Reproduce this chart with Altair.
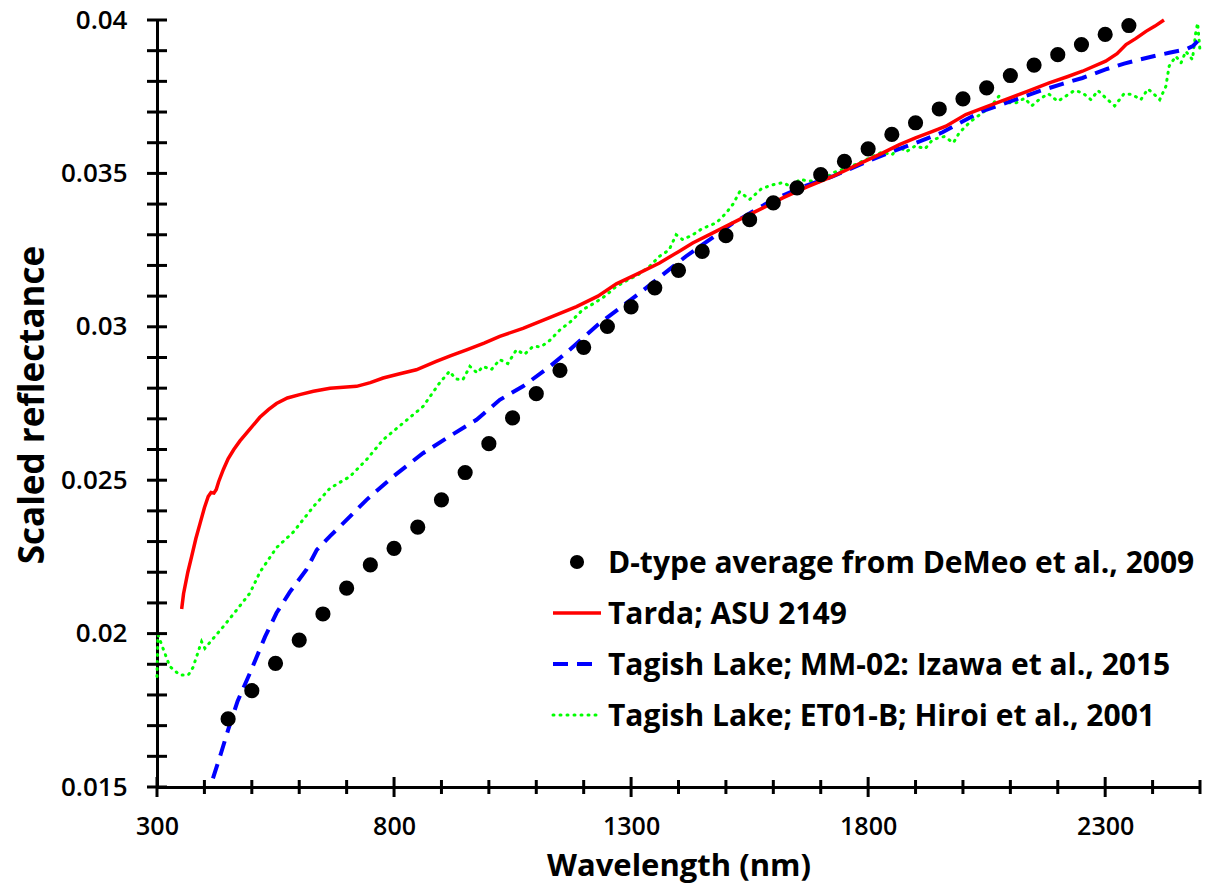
import altair as alt
import pandas as pd

# ---------------- data ----------------
dtype_wl = [450, 500, 550, 600, 650, 700, 750, 800, 850, 900, 950, 1000, 1050, 1100,
            1150, 1200, 1250, 1300, 1350, 1400, 1450, 1500, 1550, 1600, 1650, 1700,
            1750, 1800, 1850, 1900, 1950, 2000, 2050, 2100, 2150, 2200, 2250, 2300, 2350]
dtype_refl = [0.01722, 0.01814, 0.01903, 0.01979, 0.02064, 0.02148, 0.02224, 0.02278,
              0.02347, 0.02436, 0.02525, 0.02619, 0.02703, 0.02782, 0.02858, 0.02933,
              0.03001, 0.03065, 0.03127, 0.03184, 0.03246, 0.03297, 0.03349, 0.03404,
              0.03453, 0.03496, 0.03539, 0.03580, 0.03627, 0.03665, 0.03710, 0.03743,
              0.03779, 0.03819, 0.03853, 0.03887, 0.03920, 0.03953, 0.03982]

tarda_wl = [352, 356, 365, 373, 382, 391, 400, 408, 414, 420, 425, 430, 440, 450, 462,
            475, 495, 517, 535, 552, 575, 601, 630, 665, 700, 721, 750, 777, 810, 847,
            889, 920, 953, 990, 1023, 1072, 1128, 1185, 1230, 1269, 1310, 1360, 1400,
            1430, 1480, 1529, 1575, 1620, 1670, 1725, 1780, 1831, 1866, 1900, 1936,
            1964, 2006, 2050, 2091, 2140, 2182, 2220, 2252, 2301, 2325, 2344, 2365,
            2386, 2405, 2424]
tarda_refl = [0.02080, 0.02130, 0.02200, 0.02251, 0.02310, 0.02360, 0.02410, 0.02447,
              0.02460, 0.02458, 0.02470, 0.02495, 0.02535, 0.02570, 0.02600, 0.02628,
              0.02665, 0.02705, 0.02730, 0.02750, 0.02768, 0.02779, 0.02790, 0.02800,
              0.02804, 0.02806, 0.02818, 0.02833, 0.02846, 0.02860, 0.02887, 0.02906,
              0.02925, 0.02947, 0.02969, 0.02995, 0.03030, 0.03066, 0.03100, 0.03140,
              0.03170, 0.03208, 0.03245, 0.03273, 0.03312, 0.03350, 0.03385, 0.03420,
              0.03455, 0.03490, 0.03530, 0.03567, 0.03594, 0.03616, 0.03637, 0.03654,
              0.03692, 0.03718, 0.03741, 0.03770, 0.03795, 0.03815, 0.03833, 0.03866,
              0.03890, 0.03920, 0.03940, 0.03963, 0.03980, 0.04000]

izawa_wl = [418, 435, 450, 470, 496, 528, 552, 580, 615, 637, 665, 693, 742, 798, 861,
            917, 974, 1023, 1072, 1128, 1163, 1234, 1318, 1416, 1515, 1599, 1660, 1725,
            1800, 1866, 1910, 1957, 2000, 2041, 2100, 2161, 2210, 2252, 2301, 2340,
            2372, 2410, 2435, 2470, 2485, 2495]
izawa_refl = [0.01528, 0.01610, 0.01686, 0.01780, 0.01871, 0.01990, 0.02067, 0.02135,
              0.02208, 0.02273, 0.02318, 0.02360, 0.02436, 0.02512, 0.02588, 0.02643,
              0.02697, 0.02762, 0.02806, 0.02870, 0.02915, 0.03012, 0.03110, 0.03230,
              0.03338, 0.03414, 0.03455, 0.03490, 0.03540, 0.03580, 0.03605, 0.03634,
              0.03670, 0.03703, 0.03735, 0.03768, 0.03792, 0.03811, 0.03839, 0.03858,
              0.03871, 0.03885, 0.03893, 0.03904, 0.03915, 0.03931]

hiroi_wl = [300, 302, 327, 348, 366, 376, 394, 401, 419, 440, 468, 496, 517, 552, 587,
            630, 665, 707, 742, 777, 819, 861, 896, 917, 930, 945, 960, 975, 988, 1005,
            1023, 1040, 1058, 1075, 1093, 1110, 1128, 1150, 1175, 1198, 1220, 1245,
            1269, 1290, 1315, 1339, 1360, 1380, 1395, 1409, 1430, 1450, 1480, 1500,
            1515, 1529, 1550, 1575, 1599, 1620, 1640, 1655, 1680, 1700, 1725, 1760,
            1796, 1830, 1850, 1866, 1880, 1900, 1920, 1936, 1960, 1980, 1992, 2010,
            2025, 2041, 2060, 2076, 2090, 2112, 2130, 2145, 2161, 2180, 2200, 2217,
            2235, 2252, 2270, 2285, 2301, 2320, 2340, 2357, 2375, 2390, 2400, 2415,
            2428, 2435, 2449, 2460, 2470, 2484, 2491, 2495, 2500]
hiroi_refl = [0.01860, 0.01996, 0.01893, 0.01865, 0.01865, 0.01890, 0.01974, 0.01952,
              0.01985, 0.02023, 0.02077, 0.02132, 0.02200, 0.02280, 0.02330, 0.02414,
              0.02474, 0.02512, 0.02567, 0.02632, 0.02686, 0.02740, 0.02817, 0.02855,
              0.02830, 0.02827, 0.02871, 0.02850, 0.02871, 0.02860, 0.02893, 0.02880,
              0.02925, 0.02910, 0.02936, 0.02935, 0.02955, 0.02990, 0.03020, 0.03056,
              0.03075, 0.03100, 0.03132, 0.03150, 0.03170, 0.03197, 0.03230, 0.03250,
              0.03300, 0.03284, 0.03300, 0.03320, 0.03339, 0.03370, 0.03400, 0.03440,
              0.03415, 0.03450, 0.03463, 0.03470, 0.03455, 0.03480, 0.03475, 0.03470,
              0.03502, 0.03520, 0.03545, 0.03570, 0.03560, 0.03588, 0.03570, 0.03590,
              0.03580, 0.03610, 0.03620, 0.03600, 0.03632, 0.03660, 0.03680, 0.03697,
              0.03720, 0.03752, 0.03730, 0.03730, 0.03745, 0.03720, 0.03741, 0.03760,
              0.03735, 0.03752, 0.03770, 0.03763, 0.03740, 0.03770, 0.03746, 0.03720,
              0.03760, 0.03757, 0.03740, 0.03775, 0.03763, 0.03740, 0.03784, 0.03850,
              0.03882, 0.03860, 0.03898, 0.03871, 0.03958, 0.03990, 0.03900]

legend_labels = ["D-type average from DeMeo et al., 2009",
                 "Tarda; ASU 2149",
                 "Tagish Lake; MM-02: Izawa et al., 2015",
                 "Tagish Lake; ET01-B; Hiroi et al., 2001"]

x_major_ticks = [300, 800, 1300, 1800, 2300]
x_minor_ticks = [400, 500, 600, 700, 900, 1000, 1100, 1200, 1400, 1500, 1600, 1700,
                 1900, 2000, 2100, 2200, 2400, 2500]
y_ticks = [0.015, 0.016, 0.017, 0.018, 0.019, 0.020, 0.021, 0.022, 0.023, 0.024,
           0.025, 0.026, 0.027, 0.028, 0.029, 0.030, 0.031, 0.032, 0.033, 0.034,
           0.035, 0.036, 0.037, 0.038, 0.039, 0.040]
y_labels = [0.015, 0.02, 0.025, 0.03, 0.035, 0.04]

# ---------------- styling ----------------
W, H = 1043, 767
FONT = "Open Sans"
RED, BLUE, GREEN = "#ff0000", "#0000ff", "#00ff00"

xs = alt.Scale(domain=[300, 2500], nice=False, zero=False)
ys = alt.Scale(domain=[0.015, 0.04], nice=False, zero=False)

x_axis = alt.Axis(values=x_major_ticks, ticks=False, grid=False, domainColor="black",
                  domainWidth=3, labelFont=FONT, labelFontSize=25, labelColor="black",
                  labelPadding=47, labelBaseline="alphabetic", labelFontWeight=600,
                  labelExpr="format(datum.value, 'd')",
                  title="Wavelength (nm)", titleFont=FONT, titleFontSize=31,
                  titleFontWeight="bold", titleColor="black", titleX=W / 2, titleY=88,
                  titleBaseline="alphabetic", labelFlush=False)
y_axis = alt.Axis(values=y_labels, ticks=False, grid=False, domainColor="black",
                  domainWidth=3, labelFont=FONT, labelFontSize=26, labelColor="black",
                  labelPadding=30, labelFontWeight=600,
                  labelExpr="format(datum.value, '~g')",
                  title="Scaled reflectance", titleFont=FONT, titleFontSize=35,
                  titleFontWeight="bold", titleColor="black", titleX=-114, titleY=H / 2 + 1,
                  titleAngle=270, titleBaseline="alphabetic", labelFlush=False)

df_d = pd.DataFrame({"wl": dtype_wl, "r": dtype_refl})
df_t = pd.DataFrame({"wl": tarda_wl, "r": tarda_refl})
df_i = pd.DataFrame({"wl": izawa_wl, "r": izawa_refl})
df_h = pd.DataFrame({"wl": hiroi_wl, "r": hiroi_refl})


def X(field="wl"):
    return alt.X(f"{field}:Q", scale=xs, axis=x_axis)


def Y(field="r"):
    return alt.Y(f"{field}:Q", scale=ys, axis=y_axis)


hiroi = alt.Chart(df_h).mark_line(color=GREEN, strokeWidth=3, strokeDash=[1, 6],
                                  strokeCap="round").encode(x=X(), y=Y(), order="wl:Q")
tarda = alt.Chart(df_t).mark_line(color=RED, strokeWidth=3.5).encode(
    x=X(), y=Y(), order="wl:Q")
izawa = alt.Chart(df_i).mark_line(color=BLUE, strokeWidth=4, strokeDash=[15, 9]).encode(
    x=X(), y=Y(), order="wl:Q")
dots = alt.Chart(df_d).mark_circle(color="black", size=230, opacity=1).encode(x=X(), y=Y())

# crossing tick marks
ytk = alt.Chart(pd.DataFrame({"v": y_ticks})).mark_rule(color="black", strokeWidth=3).encode(
    y=Y("v"), x=alt.value(-10), x2=alt.value(10))
xmaj = alt.Chart(pd.DataFrame({"v": x_major_ticks})).mark_rule(color="black", strokeWidth=3).encode(
    x=X("v"), y=alt.value(H - 10), y2=alt.value(H + 10))
xmin = alt.Chart(pd.DataFrame({"v": x_minor_ticks})).mark_rule(color="black", strokeWidth=3).encode(
    x=X("v"), y=alt.value(H - 7), y2=alt.value(H + 7))

# legend (drawn by hand)
LX_SYM0, LX_SYM1, LX_TXT = 396, 444, 451
row_y = [542, 593, 644, 695]
leg = []
leg.append(alt.Chart(pd.DataFrame({"k": [0]})).mark_circle(color="black", size=200, opacity=1)
           .encode(x=alt.value(420), y=alt.value(row_y[0])))
for yy, col, dash, sw in [(row_y[1], RED, None, 3.5), (row_y[2], BLUE, [15, 9], 4),
                          (row_y[3], GREEN, [1, 6], 3)]:
    kw = dict(color=col, strokeWidth=sw)
    if dash:
        kw["strokeDash"] = dash
        kw["strokeCap"] = "round" if col == GREEN else "butt"
    leg.append(alt.Chart(pd.DataFrame({"k": [0]})).mark_rule(**kw)
               .encode(x=alt.value(LX_SYM0), x2=alt.value(LX_SYM1), y=alt.value(yy)))
for lab, yy in zip(legend_labels, row_y):
    leg.append(alt.Chart(pd.DataFrame({"label": [lab]})).mark_text(
        align="left", baseline="middle", font=FONT, fontSize=30, fontWeight="bold",
        color="black").encode(x=alt.value(LX_TXT), y=alt.value(yy + 2), text="label:N"))

chart = alt.layer(hiroi, izawa, tarda, dots, ytk, xmaj, xmin, *leg).properties(
    width=W, height=H,
    autosize=alt.AutoSizeParams(type="none"),
    padding={"left": 149, "top": 12, "right": 12, "bottom": 97},
    background="white",
).configure_view(stroke=None)

chart.save("out.html", embed_options={"renderer": "svg", "actions": False})
